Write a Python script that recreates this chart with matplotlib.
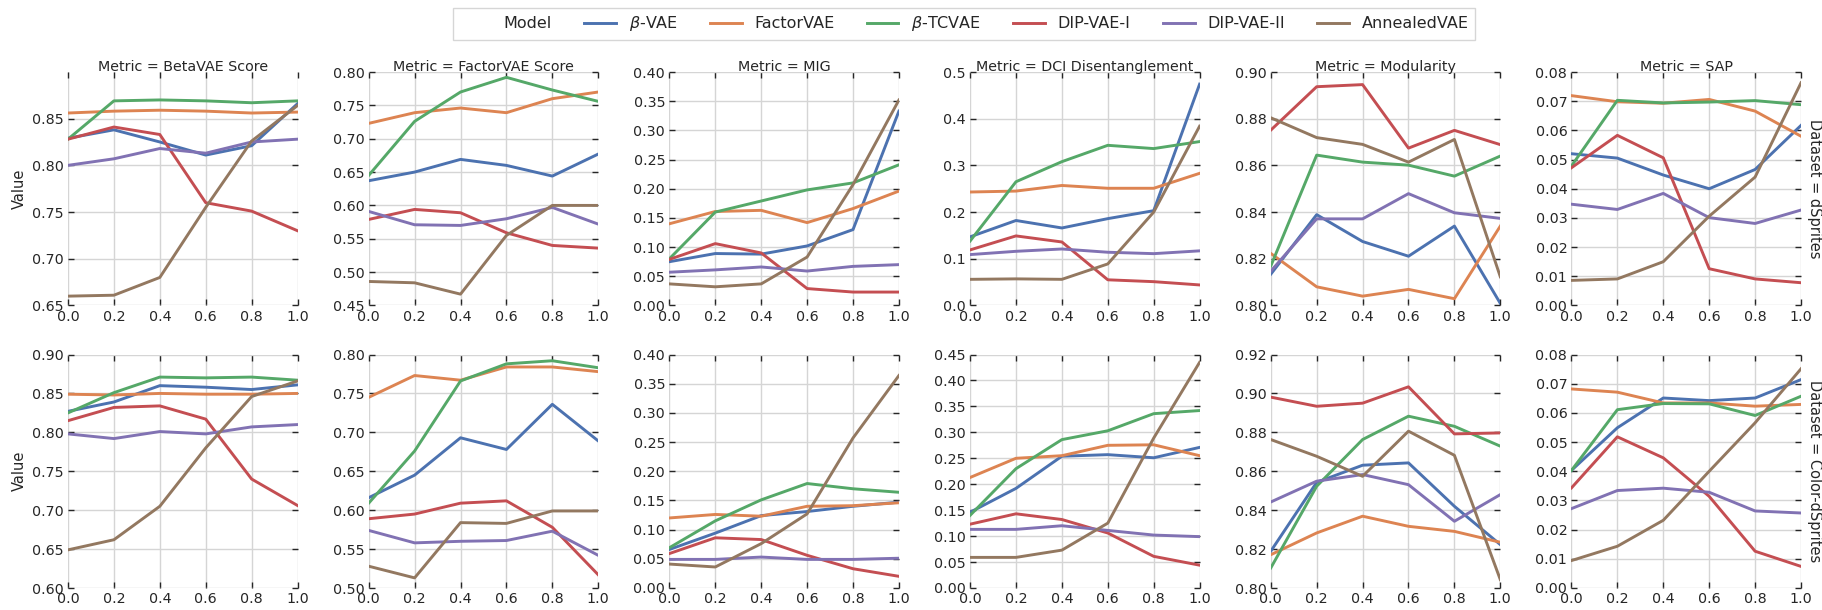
import matplotlib
matplotlib.use('Agg')
import matplotlib.pyplot as plt
from matplotlib.lines import Line2D

# Values
x_vals = [0.0, 0.2, 0.4, 0.6, 0.8, 1.0]
models = [r'$\beta$-VAE', 'FactorVAE', r'$\beta$-TCVAE', 'DIP-VAE-I', 'DIP-VAE-II', 'AnnealedVAE']
colors = ['#4C72B0', '#DD8452', '#55A868', '#C44E52', '#8172B3', '#937860']
metrics = ['BetaVAE Score', 'FactorVAE Score', 'MIG', 'DCI Disentanglement', 'Modularity', 'SAP']
datasets = ['dSprites', 'Color-dSprites']

# dSprites, one list of series per metric (order as in models)
dsprites_beta = [
    [0.829, 0.838, 0.825, 0.811, 0.821, 0.866],
    [0.856, 0.858, 0.859, 0.858, 0.856, 0.857],
    [0.828, 0.869, 0.870, 0.869, 0.867, 0.869],
    [0.828, 0.841, 0.833, 0.760, 0.751, 0.730],
    [0.800, 0.807, 0.818, 0.813, 0.825, 0.828],
    [0.660, 0.661, 0.680, 0.755, 0.826, 0.864],
]
dsprites_factor = [
    [0.637, 0.650, 0.669, 0.660, 0.644, 0.677],
    [0.723, 0.739, 0.746, 0.739, 0.760, 0.770],
    [0.645, 0.726, 0.770, 0.792, 0.773, 0.756],
    [0.579, 0.594, 0.589, 0.559, 0.540, 0.536],
    [0.591, 0.571, 0.570, 0.580, 0.597, 0.572],
    [0.486, 0.484, 0.467, 0.555, 0.600, 0.600],
]
dsprites_mig = [
    [0.075, 0.089, 0.088, 0.102, 0.130, 0.333],
    [0.140, 0.161, 0.163, 0.142, 0.166, 0.196],
    [0.080, 0.160, 0.179, 0.198, 0.210, 0.241],
    [0.079, 0.106, 0.090, 0.029, 0.023, 0.023],
    [0.057, 0.061, 0.066, 0.059, 0.067, 0.070],
    [0.037, 0.032, 0.037, 0.083, 0.207, 0.352],
]
dsprites_dci = [
    [0.147, 0.182, 0.166, 0.186, 0.203, 0.474],
    [0.243, 0.245, 0.257, 0.251, 0.251, 0.283],
    [0.138, 0.265, 0.308, 0.343, 0.336, 0.351],
    [0.119, 0.149, 0.136, 0.055, 0.051, 0.044],
    [0.109, 0.116, 0.121, 0.114, 0.111, 0.117],
    [0.056, 0.057, 0.056, 0.089, 0.200, 0.384],
]
dsprites_mod = [
    [0.8134, 0.8389, 0.8274, 0.8211, 0.8340, 0.8009],
    [0.8223, 0.8080, 0.8040, 0.8069, 0.8029, 0.8340],
    [0.8169, 0.8644, 0.8614, 0.8601, 0.8554, 0.8640],
    [0.8751, 0.8937, 0.8946, 0.8674, 0.8750, 0.8689],
    [0.8147, 0.8371, 0.8371, 0.8479, 0.8397, 0.8373],
    [0.8804, 0.8719, 0.8690, 0.8614, 0.8711, 0.8123],
]
dsprites_sap = [
    [0.0520, 0.0505, 0.0447, 0.0400, 0.0466, 0.0617],
    [0.0719, 0.0698, 0.0693, 0.0706, 0.0666, 0.0580],
    [0.0478, 0.0703, 0.0694, 0.0697, 0.0702, 0.0688],
    [0.0472, 0.0583, 0.0506, 0.0126, 0.0091, 0.0078],
    [0.0347, 0.0329, 0.0384, 0.0301, 0.0281, 0.0327],
    [0.0086, 0.0091, 0.0150, 0.0306, 0.0440, 0.0763],
]

# Color-dSprites
color_beta = [
    [0.827, 0.839, 0.860, 0.858, 0.855, 0.861],
    [0.849, 0.848, 0.850, 0.849, 0.849, 0.850],
    [0.825, 0.851, 0.871, 0.870, 0.871, 0.867],
    [0.815, 0.832, 0.834, 0.817, 0.740, 0.706],
    [0.798, 0.792, 0.801, 0.798, 0.807, 0.810],
    [0.649, 0.662, 0.705, 0.780, 0.846, 0.866],
]
color_factor = [
    [0.616, 0.645, 0.693, 0.678, 0.736, 0.689],
    [0.745, 0.773, 0.767, 0.784, 0.784, 0.778],
    [0.609, 0.676, 0.766, 0.788, 0.792, 0.783],
    [0.589, 0.595, 0.609, 0.612, 0.578, 0.517],
    [0.574, 0.558, 0.560, 0.561, 0.573, 0.542],
    [0.528, 0.513, 0.584, 0.583, 0.599, 0.599],
]
color_mig = [
    [0.066, 0.094, 0.124, 0.131, 0.140, 0.147],
    [0.120, 0.126, 0.123, 0.140, 0.141, 0.146],
    [0.069, 0.115, 0.151, 0.179, 0.170, 0.164],
    [0.059, 0.086, 0.083, 0.056, 0.033, 0.020],
    [0.049, 0.049, 0.053, 0.049, 0.049, 0.051],
    [0.041, 0.036, 0.076, 0.127, 0.257, 0.364],
]
color_dci = [
    [0.146, 0.192, 0.254, 0.257, 0.251, 0.271],
    [0.213, 0.250, 0.255, 0.275, 0.276, 0.255],
    [0.140, 0.230, 0.286, 0.303, 0.336, 0.342],
    [0.123, 0.143, 0.132, 0.106, 0.061, 0.044],
    [0.113, 0.113, 0.120, 0.111, 0.102, 0.099],
    [0.059, 0.059, 0.073, 0.125, 0.289, 0.435],
]
color_mod = [
    [0.8189, 0.8543, 0.8631, 0.8643, 0.8420, 0.8223],
    [0.8171, 0.8283, 0.8369, 0.8317, 0.8291, 0.8235],
    [0.8103, 0.8523, 0.8763, 0.8883, 0.8831, 0.8729],
    [0.8981, 0.8934, 0.8950, 0.9034, 0.8792, 0.8797],
    [0.8442, 0.8549, 0.8583, 0.8531, 0.8343, 0.8480],
    [0.8763, 0.8677, 0.8574, 0.8806, 0.8682, 0.8043],
]
color_sap = [
    [0.0403, 0.0549, 0.0651, 0.0642, 0.0651, 0.0714],
    [0.0682, 0.0671, 0.0634, 0.0634, 0.0623, 0.0629],
    [0.0403, 0.0611, 0.0632, 0.0631, 0.0591, 0.0657],
    [0.0343, 0.0518, 0.0446, 0.0314, 0.0126, 0.0074],
    [0.0272, 0.0334, 0.0342, 0.0328, 0.0264, 0.0257],
    [0.0094, 0.0143, 0.0232, 0.0400, 0.0566, 0.0751],
]

all_data = [
    [dsprites_beta, dsprites_factor, dsprites_mig, dsprites_dci, dsprites_mod, dsprites_sap],
    [color_beta, color_factor, color_mig, color_dci, color_mod, color_sap],
]

# y-axis limits and ticks per panel
y_limits = [
    [(0.65, 0.8999), (0.45, 0.80), (0.0, 0.40), (0.0, 0.50), (0.80, 0.90), (0.0, 0.08)],
    [(0.60, 0.90), (0.50, 0.80), (0.0, 0.40), (0.0, 0.45), (0.80, 0.92), (0.0, 0.08)],
]
y_steps = [
    [0.05, 0.05, 0.05, 0.1, 0.02, 0.01],
    [0.05, 0.05, 0.05, 0.05, 0.02, 0.01],
]
y_fmt = [
    ['%.2f', '%.2f', '%.2f', '%.1f', '%.2f', '%.2f'],
    ['%.2f', '%.2f', '%.2f', '%.2f', '%.2f', '%.2f'],
]

text_color = '#262626'
plt.rcParams['font.family'] = ['DejaVu Sans']
plt.rcParams['text.color'] = text_color
plt.rcParams['axes.labelcolor'] = text_color
plt.rcParams['xtick.color'] = text_color
plt.rcParams['ytick.color'] = text_color

fig, axs = plt.subplots(2, 6, figsize=(18.22, 6.10), dpi=100, facecolor='white')
plt.subplots_adjust(left=68 / 1822, right=1801 / 1822, top=1 - 72 / 610, bottom=22 / 610,
                    wspace=0.31, hspace=0.21)

for r in range(2):
    for c in range(6):
        ax = axs[r, c]
        for m in range(6):
            ax.plot(x_vals, all_data[r][c][m], color=colors[m], lw=2.1)
        lo, hi = y_limits[r][c]
        step = y_steps[r][c]
        n = int(round((hi - lo) / step + 1e-6)) + 1
        ticks = [lo + i * step for i in range(n)]
        ax.set_yticks(ticks)
        ax.set_yticklabels([y_fmt[r][c] % t for t in ticks])
        ax.set_ylim(lo, hi)
        ax.set_xlim(0, 1)
        ax.set_xticks(x_vals)
        ax.set_xticklabels(['%.1f' % v for v in x_vals])
        ax.grid(True, color='#d5d5d5', lw=1)
        ax.set_axisbelow(True)
        for s in ax.spines.values():
            s.set_visible(False)
        ax.tick_params(direction='in', length=4, width=1, top=True, right=True,
                       labelsize=10.3, pad=3)
        if r == 0:
            ax.set_title('Metric = ' + metrics[c], fontsize=10.3, pad=1, color=text_color)
        if c == 0:
            ax.set_ylabel('Value', fontsize=10.5)
        if c == 5:
            ax.annotate('Dataset = ' + datasets[r], xy=(1.025, 0.5), xycoords='axes fraction',
                        rotation=270, ha='left', va='center', fontsize=10.5)

handles = [Line2D([], [], color='none')]
labels = ['Model']
for m in range(6):
    handles.append(Line2D([], [], color=colors[m], lw=2.1))
    labels.append(models[m])
leg = fig.legend(handles, labels, loc='upper center', bbox_to_anchor=(0.529, 0.987),
                 ncol=7, fontsize=11.5, frameon=True, borderaxespad=0, fancybox=False)
leg.get_frame().set_edgecolor('#cccccc')
leg.get_frame().set_linewidth(1.0)

plt.savefig('out.png', dpi=100, facecolor='white')
